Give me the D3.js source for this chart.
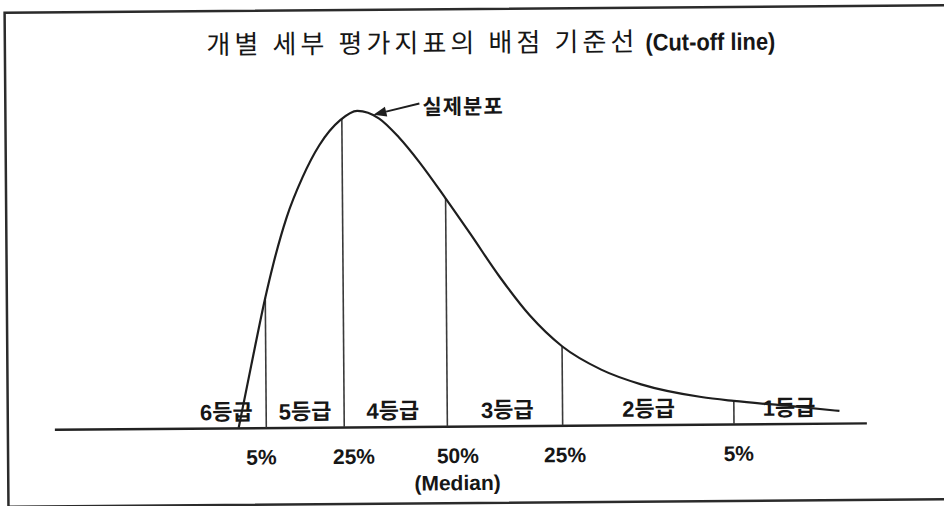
<!DOCTYPE html>
<html>
<head>
<meta charset="utf-8">
<script src="https://cdn.jsdelivr.net/npm/d3@7"></script>
<style>
  body { margin: 0; background: #fff; }
  svg { display: block; }
  text { font-family: "Liberation Sans", Arial, "Noto Sans CJK KR", sans-serif; fill: #161616; }
</style>
</head>
<body>
<div id="chart"></div>
<script>
// distribution curve: x = position along the score axis (0-100), y = relative frequency (0-100)
var curveX = [22.7, 24.3, 26.1, 27.1, 28.8, 30.8, 32.9, 35.5, 37.6, 40.3, 42.7, 45.2, 48.4, 51.4, 55.0, 58.7, 62.6, 67.4, 72.3, 79.7, 83.7, 90.8, 96.7];
var curveY = [0, 19.4, 40.6, 50.9, 65.6, 78.1, 88.1, 95.9, 98.75, 96.3, 90.4, 82.6, 71.2, 60.1, 46.5, 34.3, 24.7, 17.3, 12.6, 8.5, 7.2, 5.4, 3.8];

// cut-off lines (5% / 25% / 50% / 25% / 5%)
var cutX = [26.1, 35.7, 48.4, 62.6, 83.7];
var cutY = [40.6, 96.3, 71.2, 24.7, 7.2];

var grades = ["6등급", "5등급", "4등급", "3등급", "2등급", "1등급"];
var gradeX = [21.2, 30.9, 41.7, 55.8, 73.2, 90.5];

var pctLabels = ["5%", "25%", "50%", "25%", "5%"];
var pctX = [25.4, 36.8, 49.6, 62.8, 84.2];

var titleKo = "개별 세부 평가지표의  배점 기준선";
var titleEn = "(Cut-off line)";
var curveName = "실제분포";

var svgWidth = 944;
var svgHeight = 506;

var svg = d3.select("#chart")
  .append("svg")
  .attr("width", svgWidth)
  .attr("height", svgHeight);

// the scan is a little tilted, so tilt everything the same way
var page = svg.append("g")
  .attr("transform", "rotate(-0.45, 472, 253)");

// frame
page.append("rect")
  .attr("x", 6.5)
  .attr("y", 9)
  .attr("width", 1000)
  .attr("height", 494)
  .attr("fill", "none")
  .attr("stroke", "#2b2b2b")
  .attr("stroke-width", 2.5);

// title
page.append("text")
  .attr("x", 208)
  .attr("y", 52)
  .attr("textLength", 428)
  .attr("lengthAdjust", "spacing")
  .style("font-family", "'Noto Sans CJK KR', sans-serif")
  .style("font-size", "26px")
  .text(titleKo);

page.append("text")
  .attr("x", 647)
  .attr("y", 52)
  .attr("textLength", 130)
  .attr("lengthAdjust", "spacingAndGlyphs")
  .style("font-size", "24px")
  .style("font-weight", "bold")
  .text(titleEn);

var x = d3.scaleLinear()
  .domain([0, 100])
  .range([53, 865]);

var y = d3.scaleLinear()
  .domain([0, 100])
  .range([426, 106]);

// axis with the percent labels
var bottomAxis = d3.axisBottom(x)
  .tickValues(pctX)
  .tickFormat((d, i) => pctLabels[i])
  .tickSize(0)
  .tickPadding(22);

var axisG = page.append("g")
  .attr("transform", `translate(0, ${y(0)})`)
  .call(bottomAxis);

axisG.select(".domain")
  .attr("stroke", "#222")
  .attr("stroke-width", 2.4);

axisG.selectAll(".tick text")
  .attr("fill", "#161616")
  .style("font-family", "'Liberation Sans', Arial, sans-serif")
  .style("font-size", "21px")
  .style("font-weight", "bold");

page.append("text")
  .attr("x", x(pctX[2]))
  .attr("y", y(0) + 64)
  .attr("text-anchor", "middle")
  .style("font-size", "21px")
  .style("font-weight", "bold")
  .text("(Median)");

// grade labels
page.selectAll(".grade")
  .data(grades)
  .enter()
  .append("text")
  .attr("class", "grade")
  .attr("x", (d, i) => x(gradeX[i]))
  .attr("y", y(0) - 8)
  .attr("text-anchor", "middle")
  .style("font-size", "22px")
  .style("font-weight", "bold")
  .text(d => d);

// cut-off lines
page.selectAll(".cut")
  .data(cutX)
  .enter()
  .append("line")
  .attr("class", "cut")
  .attr("x1", d => x(d))
  .attr("x2", d => x(d))
  .attr("y1", y(0))
  .attr("y2", (d, i) => y(cutY[i]))
  .attr("stroke", "#3a3a3a")
  .attr("stroke-width", 1.6);

// distribution curve
var curvePts = curveX.map((d, i) => [d, curveY[i]]);

var line = d3.line()
  .x(d => x(d[0]))
  .y(d => y(d[1]))
  .curve(d3.curveMonotoneX);

page.append("path")
  .datum(curvePts)
  .attr("d", line)
  .attr("fill", "none")
  .attr("stroke", "#1e1e1e")
  .attr("stroke-width", 2.2);

// "실제분포" arrow pointing at the top of the curve
var tip = [x(39.6), y(97.5)];
var tail = [tip[0] + 46, tip[1] - 11];
var ang = Math.atan2(tip[1] - tail[1], tip[0] - tail[0]);
var headLen = 13, headW = 5;
var base = [tip[0] - headLen * Math.cos(ang), tip[1] - headLen * Math.sin(ang)];

page.append("line")
  .attr("x1", tail[0])
  .attr("y1", tail[1])
  .attr("x2", base[0])
  .attr("y2", base[1])
  .attr("stroke", "#1e1e1e")
  .attr("stroke-width", 2);

page.append("path")
  .attr("d", d3.line()([
    tip,
    [base[0] + headW * Math.sin(ang), base[1] - headW * Math.cos(ang)],
    [base[0] - headW * Math.sin(ang), base[1] + headW * Math.cos(ang)]
  ]) + "Z")
  .attr("fill", "#1e1e1e");

page.append("text")
  .attr("x", tail[0] + 3)
  .attr("y", tail[1] + 11)
  .attr("letter-spacing", 1)
  .style("font-family", "'Noto Sans CJK KR', sans-serif")
  .style("font-size", "21px")
  .style("font-weight", "bold")
  .text(curveName);
</script>
</body>
</html>
